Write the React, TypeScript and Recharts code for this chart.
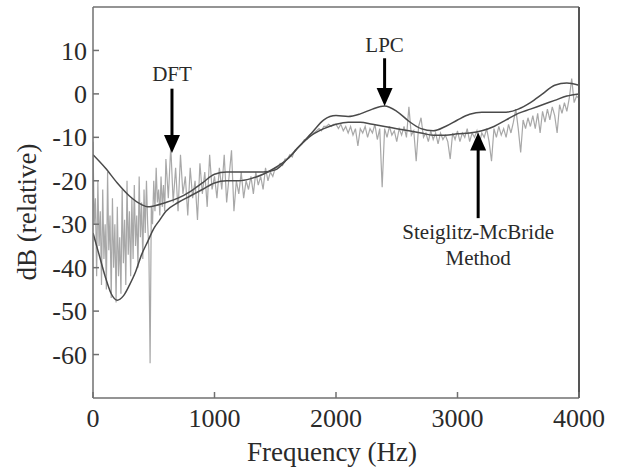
import React from 'react';
import { LineChart, Line, XAxis, YAxis, ReferenceLine, ReferenceDot } from 'recharts';

const FONT = "'Liberation Serif', 'Times New Roman', Times, serif";

const xTicks = [0, 1000, 2000, 3000, 4000];
const xTopTicks = [1000, 2000, 3000];
const yTicks = [10, 0, -10, -20, -30, -40, -50, -60];

// DFT magnitude (dB): 0–600 Hz every 10 Hz
const dftLowStepHz = 10;
const dftLowDb = [
  -11, -30, -24, -42, -20, -35, -27, -44, -22, -38, -30, -45, -18, -36, -28, -47, -24, -40, -30, -48,
  -26, -42, -33, -46, -22, -39, -29, -44, -20, -37, -27, -42, -24, -38, -21, -35, -28, -40, -19, -33,
  -25, -38, -22, -32, -20, -30, -36, -62, -26, -30, -20, -27, -17, -25, -22, -28, -19, -26, -21, -27,
  -15,
];
// DFT magnitude (dB): 620–4000 Hz every 20 Hz
const dftHighStartHz = 620;
const dftHighStepHz = 20;
const dftHighDb = [
  -24, -12, -25, -17, -27, -14, -23, -19, -28, -17, -24, -20, -29, -16, -23, -18, -26, -14, -22, -19,
  -24, -17, -22, -14, -25, -19, -13, -27, -20, -23, -18, -24, -20, -22, -19, -23, -18, -21, -19, -22, -17, -20, -18, -19, -17,
  -17, -16, -16.5, -15, -15, -14, -14.5, -13, -12.5, -12, -11.5, -10.5, -10.5, -9.5, -9, -9, -8.5, -8, -8.5, -7.5, -7.5, -7, -7.5, -7, -7,
  -8, -7, -8.5, -7.5, -9, -7.5, -9.5, -8, -12, -8, -9, -7.5, -10, -8, -9, -7, -10.5, -8, -21.5, -8, -10, -7.5, -9.5, -8.5, -11,
  -8, -9.5, -7.5, -10, -3, -9.5, -8.5, -15.5, -7.5, -5.5, -10, -9, -11, -8.5, -10.5, -9, -11.5, -9, -10.5, -9.5, -11, -15, -9, -10.5, -8.5,
  -11, -9, -10, -8, -11, -9, -10, -8.5, -11.5, -9, -10, -8, -11, -15.5, -8, -10, -7.5, -9.5, -8, -10, -7, -9, -6.5, -3.5, -8,
  -13.5, -6, -8, -5.5, -7.5, -5, -8, -4.5, -9, -4, -6.5, -3.5, -6, -3, -5, -9, -2.5, -4.5, -2, -4, -1, 3.5, -2, -0.5, -1,
];

// LPC envelope
const lpcHz = [0, 100, 200, 300, 400, 450, 500, 600, 700, 800, 900, 1000, 1100, 1200, 1300, 1400, 1500, 1600, 1700, 1800, 1900, 2000, 2100, 2200, 2300, 2400, 2500, 2600, 2700, 2800, 2900, 3000, 3100, 3200, 3300, 3400, 3500, 3600, 3700, 3800, 3900, 4000];
const lpcDb = [-14, -17, -20.5, -23.5, -25.5, -26, -25.8, -25, -24, -22.5, -20.5, -18.5, -18, -18, -18, -18, -17.5, -15, -12, -9, -6, -5, -5.2, -4.6, -3.5, -2.8, -4, -6.3, -8, -8.5, -7.5, -6, -4.7, -4.2, -4.2, -4.2, -3.5, -2, 0, 2, 2.5, 2];

// Steiglitz-McBride envelope
const smHz = [0, 50, 100, 150, 200, 250, 300, 350, 400, 450, 500, 550, 600, 700, 800, 900, 1000, 1100, 1200, 1300, 1400, 1500, 1600, 1700, 1800, 1900, 2000, 2100, 2200, 2300, 2400, 2500, 2600, 2700, 2800, 2900, 3000, 3100, 3200, 3300, 3400, 3500, 3600, 3700, 3800, 3900, 4000];
const smDb = [-32, -37, -42, -46, -47.5, -46.5, -44, -41, -37, -34, -31, -29, -27, -25, -23.5, -22, -20.5, -20, -20, -19.5, -18.5, -17, -15, -12, -9.5, -8, -7, -6.5, -6.5, -7, -7.5, -8, -8.5, -9, -9.5, -9.5, -9.2, -9, -8.5, -7.5, -6, -4.5, -3.5, -2.5, -1.5, -0.5, 0];

const dftData = [
  ...dftLowDb.map((v, i) => ({ f: i * dftLowStepHz, v })),
  ...dftHighDb.map((v, i) => ({ f: dftHighStartHz + i * dftHighStepHz, v })),
];
const lpcData = lpcHz.map((f, i) => ({ f, v: lpcDb[i] }));
const smData = smHz.map((f, i) => ({ f, v: smDb[i] }));

const FRAME = '#707070';
const TEXT = '#2a2a2a';

const BottomTick = (props: any) => {
  const { x, y, payload } = props;
  return (
    <g>
      <line x1={x} x2={x} y1={y} y2={y - 6} stroke={FRAME} strokeWidth={1.5} />
      <text x={x} y={y + 29} textAnchor="middle" fontSize={26} fontFamily={FONT} fill={TEXT}>
        {payload.value}
      </text>
    </g>
  );
};

const TopTick = (props: any) => {
  const { x, y } = props;
  return <line x1={x} x2={x} y1={y} y2={y + 6} stroke={FRAME} strokeWidth={1.5} />;
};

const LeftTick = (props: any) => {
  const { x, y, payload } = props;
  return (
    <g>
      <line x1={x} x2={x + 6} y1={y} y2={y} stroke={FRAME} strokeWidth={1.5} />
      <text x={x - 6} y={y} dy="0.35em" textAnchor="end" fontSize={26} fontFamily={FONT} fill={TEXT}>
        {payload.value}
      </text>
    </g>
  );
};

const XTitle = () => (
  <text x={332} y={461} textAnchor="middle" fontSize={27} fontFamily={FONT} fill={TEXT}>
    Frequency (Hz)
  </text>
);

const YTitle = () => (
  <text transform="translate(36,212) rotate(-90)" textAnchor="middle" fontSize={27} fontFamily={FONT} fill={TEXT}>
    dB (relative)
  </text>
);

const ArrowHead = (dir: 'down' | 'up') => (props: any) => {
  const { cx, cy } = props;
  const h = 18;
  const w = 8;
  const by = dir === 'down' ? cy - h : cy + h;
  return <polygon points={`${cx},${cy} ${cx - w},${by} ${cx + w},${by}`} fill="#000" />;
};

const TextMark = (label: string) => (props: any) => {
  const { cx, cy } = props;
  return (
    <text x={cx} y={cy} dy="0.35em" textAnchor="middle" fontSize={21} fontFamily={FONT} fill={TEXT}>
      {label}
    </text>
  );
};

export default function App() {
  return (
    <div style={{ position: 'absolute', left: 0, top: 0, width: 618, height: 470, background: '#fff' }}>
      <LineChart width={618} height={470} margin={{ top: 6, right: 38, bottom: 12, left: 33 }}>
        <XAxis
          dataKey="f"
          type="number"
          domain={[0, 4000]}
          ticks={xTicks}
          height={60}
          tickSize={0}
          tickMargin={0}
          tickLine={false}
          tick={<BottomTick />}
          axisLine={{ stroke: FRAME, strokeWidth: 1.5 }}
          allowDataOverflow
          label={<XTitle />}
        />
        <XAxis
          xAxisId="t"
          orientation="top"
          dataKey="f"
          type="number"
          domain={[0, 4000]}
          ticks={xTopTicks}
          height={1}
          tickSize={0}
          tickMargin={0}
          tickLine={false}
          tick={<TopTick />}
          axisLine={{ stroke: FRAME, strokeWidth: 1.5 }}
        />
        <YAxis
          type="number"
          domain={[-70, 20]}
          ticks={yTicks}
          width={60}
          tickSize={0}
          tickMargin={0}
          tickLine={false}
          tick={<LeftTick />}
          axisLine={{ stroke: FRAME, strokeWidth: 1.5 }}
          allowDataOverflow
          label={<YTitle />}
        />
        <YAxis
          yAxisId="r"
          orientation="right"
          type="number"
          domain={[-70, 20]}
          width={1}
          tick={false}
          tickLine={false}
          axisLine={{ stroke: '#555', strokeWidth: 2 }}
        />
        <Line data={dftData} dataKey="v" stroke="#a8a8a8" strokeWidth={1.2} dot={false} isAnimationActive={false} />
        <Line data={lpcData} dataKey="v" stroke="#4a4a4a" strokeWidth={1.5} dot={false} isAnimationActive={false} type="monotone" />
        <Line data={smData} dataKey="v" stroke="#4a4a4a" strokeWidth={1.5} dot={false} isAnimationActive={false} type="monotone" />

        <ReferenceDot x={650} y={4.7} r={1} shape={TextMark('DFT')} ifOverflow="visible" />
        <ReferenceLine segment={[{ x: 650, y: 1.2 }, { x: 650, y: -10 }]} stroke="#000" strokeWidth={3} ifOverflow="visible" />
        <ReferenceDot x={650} y={-13.6} r={1} shape={ArrowHead('down')} ifOverflow="visible" />

        <ReferenceDot x={2400} y={11.3} r={1} shape={TextMark('LPC')} ifOverflow="visible" />
        <ReferenceLine segment={[{ x: 2400, y: 8.2 }, { x: 2400, y: 0 }]} stroke="#000" strokeWidth={3} ifOverflow="visible" />
        <ReferenceDot x={2400} y={-2.8} r={1} shape={ArrowHead('down')} ifOverflow="visible" />

        <ReferenceDot x={3170} y={-31.7} r={1} shape={TextMark('Steiglitz-McBride')} ifOverflow="visible" />
        <ReferenceDot x={3170} y={-37.6} r={1} shape={TextMark('Method')} ifOverflow="visible" />
        <ReferenceLine segment={[{ x: 3170, y: -28.6 }, { x: 3170, y: -12 }]} stroke="#000" strokeWidth={3} ifOverflow="visible" />
        <ReferenceDot x={3170} y={-8.9} r={1} shape={ArrowHead('up')} ifOverflow="visible" />
      </LineChart>
    </div>
  );
}
